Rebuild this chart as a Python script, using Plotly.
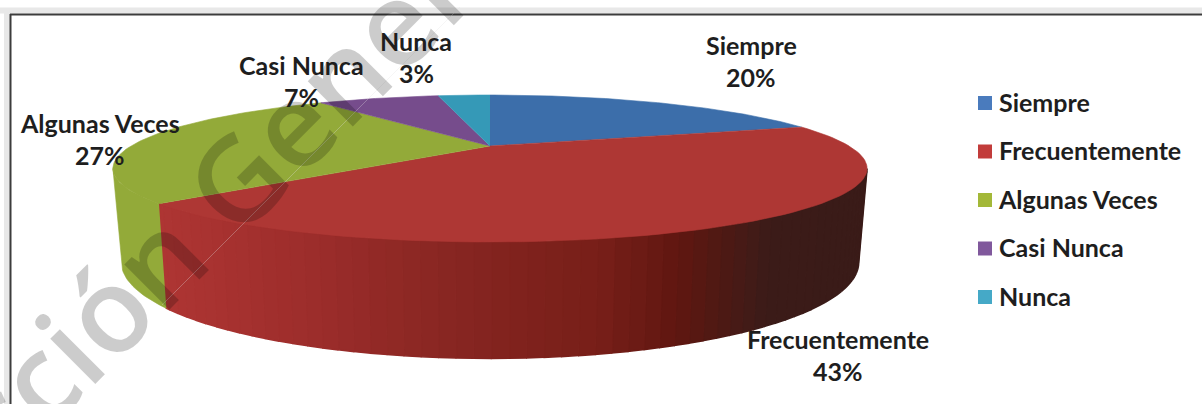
import numpy as np
import plotly.graph_objects as go

categories = ["Siempre", "Frecuentemente", "Algunas Veces", "Casi Nunca", "Nunca"]
values = [20, 43, 27, 7, 3]
top_colors = ["#3c6eaa", "#ae3734", "#93aa39", "#764c8c", "#3599b7"]
legend_colors = ["#4a7bbd", "#c23c3a", "#a3b838", "#80589c", "#45a9c7"]
text_color = "#1e1e1e"
FONT = "Lato"

# projection of the tilted disc (perspective)
CX, K = 490.0, 0.306
TOP = dict(R=359.0, Y0=146.0, H=66.6)
BOT = dict(R=351.0, Y0=233.0, H=87.0)


def project(theta_deg, ring):
    t = np.radians(theta_deg)
    u, v = np.sin(t), np.cos(t)
    d = 1 + K * v
    return CX + ring["R"] * u / d, ring["Y0"] - ring["H"] * v / d


edges = np.cumsum([0] + values) / sum(values) * 360.0
TANG_R = np.degrees(np.arccos(-K))
TANG_L = 360 - TANG_R

# red wall shading, sampled along x
shade_x = [150, 300, 450, 600, 680, 730, 770, 870]
shade_r = [0xb0, 0x9e, 0x88, 0x78, 0x60, 0x4c, 0x3c, 0x3a]
shade_g = [0x36, 0x2e, 0x26, 0x1f, 0x17, 0x1a, 0x1c, 0x1b]
shade_b = [0x34, 0x2c, 0x22, 0x19, 0x11, 0x15, 0x19, 0x18]

fig = go.Figure()


def poly(xs, ys, color, lw=0.6):
    fig.add_trace(go.Scatter(x=xs, y=ys, mode="lines", fill="toself", fillcolor=color,
                             line=dict(color=color, width=lw), hoverinfo="skip", showlegend=False))


# side walls
strip = 2.0
red_angles = np.arange(TANG_R, edges[2] + strip, strip)
red_angles[-1] = edges[2]
for a, b in zip(red_angles[:-1], red_angles[1:]):
    aa = np.array([a, b])
    tx, ty = project(aa, TOP)
    bx, by = project(aa[::-1], BOT)
    xm = tx.mean()
    c = "rgb(%d,%d,%d)" % (np.interp(xm, shade_x, shade_r), np.interp(xm, shade_x, shade_g),
                           np.interp(xm, shade_x, shade_b))
    poly(list(tx) + list(bx), list(ty) + list(by), c, lw=1.6)
aa = np.linspace(edges[2], TANG_L, 24)
tx, ty = project(aa, TOP)
bx, by = project(aa[::-1], BOT)
poly(list(tx) + list(bx), list(ty) + list(by), top_colors[2])

# top faces
for i, col in enumerate(top_colors):
    aa = np.linspace(edges[i], edges[i + 1], 90)
    tx, ty = project(aa, TOP)
    poly([CX] + list(tx), [TOP["Y0"]] + list(ty), col)

# legend: real entries for the text, swatches placed closer to it
ROW0, ROW_STEP = 103.0, 48.5
for i, (name, col) in enumerate(zip(categories, legend_colors)):
    fig.add_trace(go.Scatter(x=[None], y=[None], mode="markers", name=name, legendgroup=name,
                             marker=dict(symbol="square", size=14, color="rgba(0,0,0,0)")))
    fig.add_trace(go.Scatter(x=[985], y=[ROW0 + i * ROW_STEP], mode="markers", showlegend=False,
                             hoverinfo="skip", marker=dict(symbol="square", size=14, color=col)))

annotations = [dict(text="Dirección General", x=163, y=251, xref="x", yref="y", showarrow=False,
                    textangle=-45, font=dict(family="Open Sans", size=118, weight=600, color="rgba(0,0,0,0.2)"))]
label_pos = {"Siempre": (751, 45), "Frecuentemente": (838, 339), "Algunas Veces": (100, 123),
             "Casi Nunca": (301, 65), "Nunca": (416, 41)}
for name, v in zip(categories, values):
    lx, ly = label_pos[name]
    for txt, yy in ((name, ly), (f"{v}%", ly + 32)):
        annotations.append(dict(text=f"<b>{txt}</b>", x=lx, y=yy, xref="x", yref="y", showarrow=False,
                                font=dict(family=FONT, size=25, color=text_color)))

shapes = [
    dict(type="line", xref="x", yref="y", x0=0, x1=1202, y0=10.5, y1=10.5, line=dict(color="#e8e8e8", width=6), layer="below"),
    dict(type="line", xref="x", yref="y", x0=7, x1=7, y0=11, y1=404, line=dict(color="#e8e8e8", width=6), layer="below"),
    dict(type="line", xref="x", yref="y", x0=10, x1=1202, y0=14.5, y1=14.5, line=dict(color="#3c3c3c", width=2), layer="below"),
    dict(type="line", xref="x", yref="y", x0=10.5, x1=10.5, y0=14, y1=404, line=dict(color="#3c3c3c", width=2), layer="below"),
    dict(type="line", xref="x", yref="y", x0=162, x1=460, y0=305, y1=7, line=dict(color="rgba(225,225,225,0.45)", width=0.7), layer="above"),
]

fig.update_layout(
    width=1202, height=404, margin=dict(l=0, r=0, t=0, b=0),
    paper_bgcolor="white", plot_bgcolor="white", hovermode=False,
    xaxis=dict(range=[0, 1202], visible=False, fixedrange=True),
    yaxis=dict(range=[404, 0], visible=False, fixedrange=True),
    annotations=annotations, shapes=shapes,
    legend=dict(x=970 / 1202, y=1 - 79 / 404, xanchor="left", yanchor="top", tracegroupgap=13,
                indentation=-11, bgcolor="rgba(0,0,0,0)",
                font=dict(family=FONT, size=25, color=text_color, weight="bold")),
)
fig.write_html("out.html", config={"displayModeBar": False},
               post_script="document.body.style.margin='0';")
